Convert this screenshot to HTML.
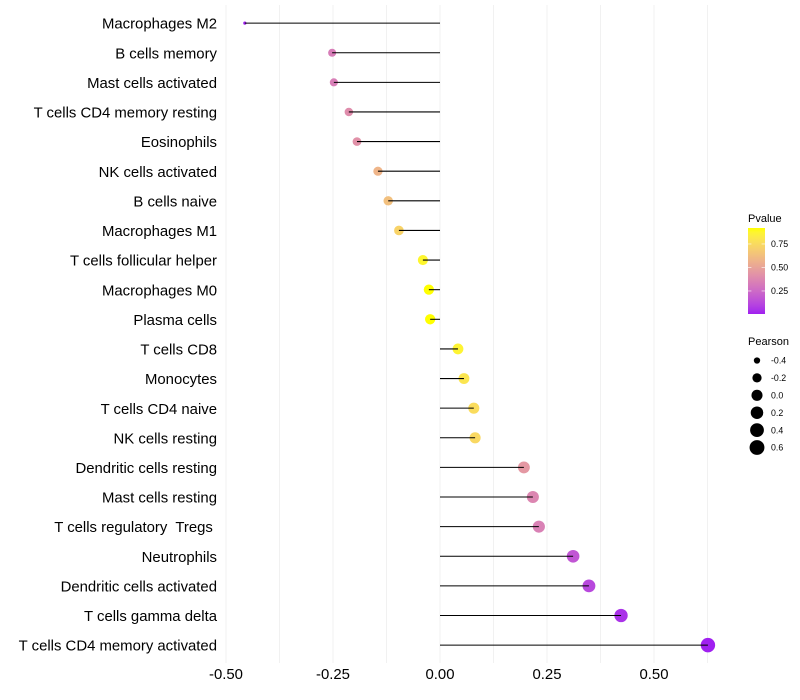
<!DOCTYPE html>
<html>
<head>
<meta charset="utf-8">
<title>Pearson lollipop chart</title>
<style>
html,body{margin:0;padding:0;background:#fff;width:800px;height:700px;overflow:hidden}
svg{display:block;font-family:"Liberation Sans",Arial,sans-serif}
</style>
</head>
<body>
<svg id="chart" width="800" height="700" viewBox="0 0 800 700" xmlns="http://www.w3.org/2000/svg">
<defs>
<linearGradient id="pgrad" x1="0" y1="1" x2="0" y2="0"></linearGradient>
</defs>
<g id="grid"></g>
<g id="ylabels"></g>
<g id="xlabels"></g>
<g id="marks"></g>
<g id="pvalue-legend">
<text x="748" y="222" font-size="11" fill="#000">Pvalue</text>
<rect x="748" y="228" width="17" height="86" fill="url(#pgrad)"></rect>
</g>
<g id="pearson-legend">
<text x="748" y="345" font-size="11" fill="#000">Pearson</text>
</g>
</svg>
<script>
const categories = ["Macrophages M2","B cells memory","Mast cells activated","T cells CD4 memory resting","Eosinophils","NK cells activated","B cells naive","Macrophages M1","T cells follicular helper","Macrophages M0","Plasma cells","T cells CD8","Monocytes","T cells CD4 naive","NK cells resting","Dendritic cells resting","Mast cells resting","T cells regulatory  Tregs ","Neutrophils","Dendritic cells activated","T cells gamma delta","T cells CD4 memory activated"];
const pearsonValues = [-0.456,-0.252,-0.248,-0.213,-0.194,-0.145,-0.121,-0.096,-0.040,-0.026,-0.023,0.042,0.056,0.079,0.082,0.196,0.217,0.231,0.311,0.348,0.423,0.626];
const pValues = [0.005,0.33,0.34,0.40,0.42,0.58,0.63,0.72,0.88,0.92,0.92,0.87,0.80,0.76,0.74,0.45,0.37,0.35,0.17,0.12,0.05,0.006];
const xTicks = [-0.5,-0.25,0,0.25,0.5];
const xTickLabels = ["-0.50","-0.25","0.00","0.25","0.50"];
const xMinorTicks = [-0.375,-0.125,0.125,0.375,0.625];
const colorTicks = [0.25,0.5,0.75];
const colorTickLabels = ["0.25","0.50","0.75"];
const sizeTicks = [-0.4,-0.2,0,0.2,0.4,0.6];
const sizeTickLabels = ["-0.4","-0.2","0.0","0.2","0.4","0.6"];

const NS = "http://www.w3.org/2000/svg";
function make(tag, attrs, parent){
  const el = document.createElementNS(NS, tag);
  for (const k in attrs) el.setAttribute(k, attrs[k]);
  parent.appendChild(el);
  return el;
}
function xScale(v){ return 440 + v * 428; }
function yScale(i){ return 23.1 + i * 29.62; }
const pMin = Math.min.apply(null, pValues);
const pMax = Math.max.apply(null, pValues);
const rMin = Math.min.apply(null, pearsonValues);
const rMax = Math.max.apply(null, pearsonValues);
function sizeScale(v){
  const t = Math.max(0, (v - rMin) / (rMax - rMin));
  return 1.6 + 5.6 * Math.sqrt(t);
}
function toLab(c){
  const f = c.map(function(u){ u /= 255; return u > 0.04045 ? Math.pow((u + 0.055) / 1.055, 2.4) : u / 12.92; });
  const X = (0.4124*f[0] + 0.3576*f[1] + 0.1805*f[2]) / 0.95047;
  const Y = 0.2126*f[0] + 0.7152*f[1] + 0.0722*f[2];
  const Z = (0.0193*f[0] + 0.1192*f[1] + 0.9505*f[2]) / 1.08883;
  const g = function(t){ return t > 0.008856 ? Math.cbrt(t) : 7.787*t + 16/116; };
  return [116*g(Y) - 16, 500*(g(X) - g(Y)), 200*(g(Y) - g(Z))];
}
function fromLab(l){
  const fy = (l[0] + 16) / 116, fx = l[1] / 500 + fy, fz = fy - l[2] / 200;
  const g = function(t){ return t*t*t > 0.008856 ? t*t*t : (t - 16/116) / 7.787; };
  const X = g(fx) * 0.95047, Y = g(fy), Z = g(fz) * 1.08883;
  const rgb = [3.2406*X - 1.5372*Y - 0.4986*Z, -0.9689*X + 1.8758*Y + 0.0415*Z, 0.0557*X - 0.2040*Y + 1.0570*Z];
  return rgb.map(function(u){
    u = u > 0.0031308 ? 1.055*Math.pow(u, 1/2.4) - 0.055 : 12.92*u;
    return Math.round(Math.min(1, Math.max(0, u)) * 255);
  });
}
const labLow = toLab([160,32,240]);
const labHigh = toLab([255,255,0]);
function colorAt(t){
  t = Math.min(1, Math.max(0, t));
  const c = fromLab([0,1,2].map(function(i){ return labLow[i] + (labHigh[i] - labLow[i]) * t; }));
  return "rgb(" + c.join(",") + ")";
}
function colorScale(p){ return colorAt((p - pMin) / (pMax - pMin)); }

const gridG = document.getElementById("grid");
xTicks.concat(xMinorTicks).forEach(function(v){
  const line = make("line", {x1:xScale(v), x2:xScale(v), y1:5, y2:663, stroke:"#f1f1f1", "stroke-width":1}, gridG);
  
  
});

const yG = document.getElementById("ylabels");
categories.forEach(function(c, i){
  const t = make("text", {x:217, y:yScale(i) + 5.6, "text-anchor":"end", "font-size":14.9, fill:"#000", "xml:space":"preserve"}, yG);
  t.style.whiteSpace = "pre";
  t.textContent = c;
  
  
});

const xG = document.getElementById("xlabels");
xTicks.forEach(function(v, i){
  const t = make("text", {x:xScale(v), y:679, "text-anchor":"middle", "font-size":14.9, fill:"#000"}, xG);
  t.textContent = xTickLabels[i];
  
  
});

const marksG = document.getElementById("marks");
categories.forEach(function(c, i){
  const pt = make("circle", {cx:xScale(pearsonValues[i]), cy:yScale(i), r:sizeScale(pearsonValues[i]), fill:colorScale(pValues[i])}, marksG);
  
  
  const ln = make("line", {x1:xScale(0), x2:xScale(pearsonValues[i]), y1:yScale(i), y2:yScale(i), stroke:"#000", "stroke-width":1.05}, marksG);
  
  
});

const grad = document.getElementById("pgrad");
for (let s = 0; s <= 20; s++) {
  make("stop", {offset:(s * 5) + "%", "stop-color":colorAt(s / 20)}, grad);
}
const pLegend = document.getElementById("pvalue-legend");
function colorbarY(p){ return 314 - (p - pMin) / (pMax - pMin) * 86; }
colorTicks.forEach(function(p, i){
  const y = colorbarY(p);
  const a = make("line", {x1:748, x2:751.4, y1:y, y2:y, stroke:"#fff", "stroke-width":0.6}, pLegend);
  
  
  const b = make("line", {x1:761.6, x2:765, y1:y, y2:y, stroke:"#fff", "stroke-width":0.6}, pLegend);
  
  
  const t = make("text", {x:771, y:y + 3.2, "font-size":8.8, fill:"#000"}, pLegend);
  t.textContent = colorTickLabels[i];
  
  
});

const sLegend = document.getElementById("pearson-legend");
sizeTicks.forEach(function(v, i){
  const y = 360.5 + i * 17.4;
  const dot = make("circle", {cx:757, cy:y, r:sizeScale(v) + 0.3, fill:"#000"}, sLegend);
  
  
  const t = make("text", {x:771, y:y + 3.2, "font-size":8.8, fill:"#000"}, sLegend);
  t.textContent = sizeTickLabels[i];
  
  
});
</script>
</body>
</html>
